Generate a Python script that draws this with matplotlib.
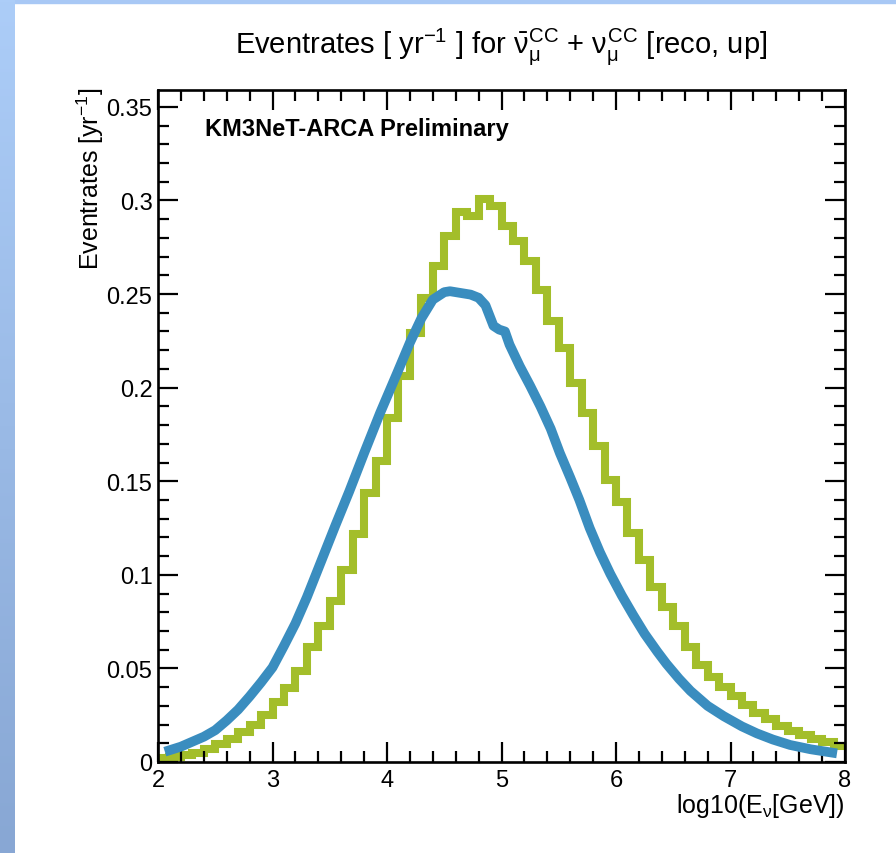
import numpy as np
import matplotlib.pyplot as plt
from matplotlib.ticker import MultipleLocator, FixedLocator
from matplotlib.patches import Rectangle

plt.rcParams['font.family'] = ['Liberation Sans', 'DejaVu Sans']
plt.rcParams['mathtext.fontset'] = 'custom'
plt.rcParams['mathtext.rm'] = 'Liberation Sans'
plt.rcParams['mathtext.it'] = 'Liberation Sans'
plt.rcParams['mathtext.bf'] = 'Liberation Sans:bold'

# green histogram, 0.1 wide bins from 2 to 8
bin_edges = np.round(np.arange(2.0, 8.05, 0.1), 1)
green_rates = [0.0022, 0.0027, 0.0035, 0.0050, 0.0070, 0.0095, 0.0125, 0.0160, 0.0200, 0.0250,
               0.0320, 0.0395, 0.0485, 0.0617, 0.0724, 0.0860, 0.1027, 0.1220, 0.1438, 0.1606,
               0.1838, 0.2060, 0.2290, 0.2480, 0.2650, 0.2810, 0.2940, 0.2916, 0.3008, 0.2970,
               0.2865, 0.2785, 0.2676, 0.2524, 0.2355, 0.2212, 0.2025, 0.1865, 0.1686, 0.1505,
               0.1390, 0.1223, 0.1080, 0.0935, 0.0830, 0.0724, 0.0617, 0.0520, 0.0456, 0.0400,
               0.0350, 0.0305, 0.0260, 0.0230, 0.0190, 0.0165, 0.0145, 0.0125, 0.0105, 0.0085]

# blue curve
blue_x = [2.06, 2.2, 2.4, 2.5, 2.6, 2.7, 2.8, 2.9, 3.0, 3.1, 3.2, 3.3, 3.43, 3.55, 3.67, 3.8,
          3.94, 4.09, 4.2, 4.3, 4.4, 4.5, 4.55, 4.65, 4.73, 4.8, 4.86, 4.93, 4.98, 5.03, 5.07,
          5.16, 5.25, 5.34, 5.43, 5.51, 5.6, 5.68, 5.77, 5.86, 5.95, 6.05, 6.15, 6.25, 6.36,
          6.44, 6.55, 6.65, 6.8, 6.94, 7.1, 7.23, 7.37, 7.52, 7.7, 7.93]
blue_y = [0.0055, 0.0082, 0.0135, 0.0170, 0.0222, 0.0280, 0.0350, 0.0425, 0.0505, 0.0620,
          0.0740, 0.0880, 0.1080, 0.1265, 0.1445, 0.1650, 0.1865, 0.2080, 0.2240, 0.2370,
          0.2470, 0.2510, 0.2515, 0.2505, 0.2497, 0.2480, 0.2440, 0.2330, 0.2310, 0.2300,
          0.2230, 0.2114, 0.2010, 0.1900, 0.1780, 0.1650, 0.1520, 0.1400, 0.1250, 0.1120,
          0.1005, 0.0890, 0.0785, 0.0685, 0.0590, 0.0525, 0.0445, 0.0380, 0.0300, 0.0245,
          0.0190, 0.0153, 0.0120, 0.0091, 0.0068, 0.0046]

fig = plt.figure(figsize=(8.96, 8.54), dpi=100)

# slide background: blue strip on the left and thin band on top
bg = fig.add_axes([0, 0, 14 / 896, 1], zorder=-5)
grad = np.linspace(0, 1, 256).reshape(-1, 1)
top_c = np.array([172, 205, 248]) / 255
bot_c = np.array([136, 167, 212]) / 255
img = top_c[None, None, :] * (1 - grad[:, :, None]) + bot_c[None, None, :] * grad[:, :, None]
bg.imshow(img, aspect='auto', extent=[0, 1, 0, 1])
bg.axis('off')
fig.patches.append(Rectangle((0, 1 - 4 / 854), 1, 4 / 854, transform=fig.transFigure,
                             color='#a8c8f5', zorder=-6))

ax = fig.add_axes([158 / 896, 1 - 763 / 854, 687 / 896, 672 / 854])

ax.stairs(green_rates, bin_edges, baseline=None, color='#a3be2a', linewidth=5.8)
ax.plot(blue_x, blue_y, color='#3a8dbf', linewidth=7, solid_capstyle='butt',
        solid_joinstyle='round')

ax.set_xlim(2, 8)
ax.set_ylim(0, 0.359)

ax.xaxis.set_major_locator(MultipleLocator(1))
ax.xaxis.set_minor_locator(MultipleLocator(0.2))
ax.yaxis.set_major_locator(FixedLocator([0, 0.05, 0.1, 0.15, 0.2, 0.25, 0.3, 0.35]))
ax.yaxis.set_minor_locator(MultipleLocator(0.01))
ax.set_yticklabels(['0', '0.05', '0.1', '0.15', '0.2', '0.25', '0.3', '0.35'])

ax.tick_params(which='both', direction='in', top=True, right=True, width=1.6)
ax.tick_params(which='major', length=14.5, labelsize=17)
ax.tick_params(axis='x', which='major', pad=5)
ax.tick_params(axis='y', which='major', pad=4)
ax.tick_params(which='minor', length=8)
for s in ax.spines.values():
    s.set_linewidth(1.9)

ax.set_ylabel('Eventrates [yr$^{-1}$]', fontsize=18, loc='top')
ax.yaxis.set_label_coords(-0.076, 1.005)
ax.set_xlabel(r'log10(E$_{\nu}$[GeV])', fontsize=18, loc='right')
ax.xaxis.set_label_coords(1.0, -0.043)

ax.text(0.068, 0.942, 'KM3NeT-ARCA Preliminary', transform=ax.transAxes,
        fontsize=17, fontweight='bold', va='center', ha='left')

fig.text(0.5597, 0.945,
         r'Eventrates [ yr$^{-1}$ ] for $\bar{\nu}_{\mu}^{CC}$ + $\nu_{\mu}^{CC}$ [reco, up]',
         fontsize=21, ha='center', va='center')

fig.savefig('out.png', dpi=100)
